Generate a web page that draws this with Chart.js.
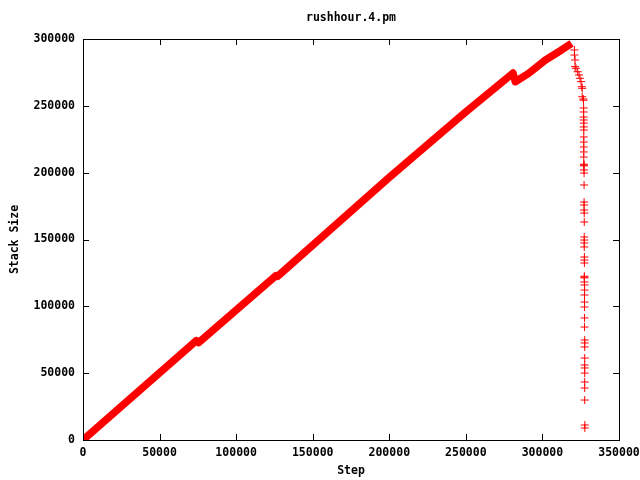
<!DOCTYPE html>
<html>
<head>
<meta charset="utf-8">
<script src="https://cdn.jsdelivr.net/npm/chart.js@4/dist/chart.umd.min.js"></script>
<style>
  body { margin: 0; background: #fff; }
  canvas { display: block; }
</style>
</head>
<body>
<canvas id="chart" width="640" height="480"></canvas>
<script>
// main rising band (dense run of points, drawn as a thick line)
const bandSteps = [0, 74000, 75500, 126000, 127000, 200000, 250000, 280800, 282300, 291000, 302000, 312500, 319000];
const bandSizes = [0, 74300, 72800, 123000, 122400, 196500, 245500, 274500, 268000, 274300, 284300, 291800, 296800];

// sparse points after the peak
const dropSteps = [
    320900, 320900, 321300, 321300, 321900, 323000, 323900, 324500, 325200, 325700, 326000, 326000, 326700,
    326800, 326900, 326900, 326900, 327000, 327000, 327000, 327000, 327000, 327000, 327000, 327000, 327000,
    327100, 327100, 327100, 327100, 327200, 327200, 327200, 327200, 327200, 327300, 327300, 327300, 327300,
    327300, 327300, 327400, 327400, 327400, 327400, 327400, 327400, 327400, 327500, 327500, 327500, 327500,
    327500, 327500, 327500, 327600, 327600, 327600, 327600, 327600, 327600, 327600, 327600
];
const dropSizes = [
    291800, 288000, 284300, 279300, 278100, 275500, 273100, 270600, 268100, 264300, 263100, 256800, 255100,
    254200, 248400, 245400, 241600, 239400, 237100, 234200, 231900, 226700, 222900, 219200, 215500, 211700,
    206300, 205700, 205100, 202000, 199700, 190800, 178000, 175800, 172000, 169800, 163100, 151900, 149600,
    147400, 144400, 136900, 134600, 132400, 122500, 121900, 121300, 118200, 116000, 112200, 108500, 103200,
    99500, 91300, 84500, 74800, 72600, 69600, 61300, 56100, 53900, 50100, 43400
];
const tailSteps = [327600, 327600, 327700, 327700];
const tailSizes = [38900, 29900, 11200, 9000];

const xTicks = [0, 50000, 100000, 150000, 200000, 250000, 300000, 350000];
const yTicks = [0, 50000, 100000, 150000, 200000, 250000, 300000];

const FONT = { family: '"DejaVu Sans Mono", monospace', size: 11.5, weight: 'bold' };
const RED = '#ff0000';

function pts(xs, ys) {
    return xs.map((x, i) => ({ x: x, y: ys[i] }));
}

// gnuplot style frame: full border, inward ticks on all sides, title over the plot
const framePlugin = {
    id: 'frame',
    afterDraw(chart) {
        const ctx = chart.ctx;
        const a = chart.chartArea;
        const sx = chart.scales.x;
        const sy = chart.scales.y;
        const len = 6;
        ctx.save();
        ctx.strokeStyle = '#000';
        ctx.lineWidth = 1;
        ctx.beginPath();
        xTicks.forEach(v => {
            const px = Math.round(sx.getPixelForValue(v)) + 0.5;
            ctx.moveTo(px, a.bottom);
            ctx.lineTo(px, a.bottom - len);
            ctx.moveTo(px, a.top);
            ctx.lineTo(px, a.top + len);
        });
        yTicks.forEach(v => {
            const py = Math.round(sy.getPixelForValue(v)) + 0.5;
            ctx.moveTo(a.left, py);
            ctx.lineTo(a.left + len, py);
            ctx.moveTo(a.right, py);
            ctx.lineTo(a.right - len, py);
        });
        ctx.stroke();
        ctx.strokeRect(Math.round(a.left) + 0.5, Math.round(a.top) + 0.5,
            Math.round(a.right - a.left), Math.round(a.bottom - a.top));

        ctx.fillStyle = '#000';
        ctx.font = 'bold 11.5px "DejaVu Sans Mono", monospace';
        ctx.textAlign = 'center';
        ctx.textBaseline = 'middle';
        ctx.fillText('rushhour.4.pm', (a.left + a.right) / 2, 18);
        ctx.restore();
    }
};

new Chart(document.getElementById('chart'), {
    type: 'scatter',
    data: {
        datasets: [
            {
                label: 'band',
                data: pts(bandSteps, bandSizes),
                showLine: true,
                borderColor: RED,
                backgroundColor: RED,
                borderWidth: 7.5,
                borderJoinStyle: 'round',
                pointRadius: 0
            },
            {
                label: 'drop',
                data: pts(dropSteps, dropSizes).concat(pts(tailSteps, tailSizes)),
                showLine: false,
                pointStyle: 'cross',
                pointRadius: 4,
                borderColor: RED,
                backgroundColor: RED,
                borderWidth: 1
            }
        ]
    },
    options: {
        responsive: false,
        animation: false,
        layout: { padding: { top: 39, right: 21, left: 0, bottom: 0 } },
        plugins: {
            legend: { display: false },
            tooltip: { enabled: false },
            title: { display: false }
        },
        scales: {
            x: {
                type: 'linear',
                min: 0,
                max: 350000,
                afterFit: s => { s.height = 40; s.paddingLeft = 0; s.paddingRight = 0; },
                grid: { display: false, drawTicks: false },
                border: { display: false },
                ticks: {
                    stepSize: 50000,
                    padding: 6,
                    color: '#000',
                    font: FONT,
                    maxRotation: 0,
                    autoSkip: false,
                    callback: v => String(v)
                },
                title: { display: true, text: 'Step', color: '#000', font: FONT, padding: { top: 0, bottom: 2 } }
            },
            y: {
                type: 'linear',
                min: 0,
                max: 300000,
                afterFit: s => { s.width = 83; s.paddingTop = 0; s.paddingBottom = 0; },
                grid: { display: false, drawTicks: false },
                border: { display: false },
                ticks: {
                    stepSize: 50000,
                    padding: 8,
                    color: '#000',
                    font: FONT,
                    autoSkip: false,
                    callback: v => String(v)
                },
                title: { display: true, text: 'Stack Size', color: '#000', font: FONT, padding: { top: 8, bottom: 0 } }
            }
        }
    },
    plugins: [framePlugin]
});
</script>
</body>
</html>
